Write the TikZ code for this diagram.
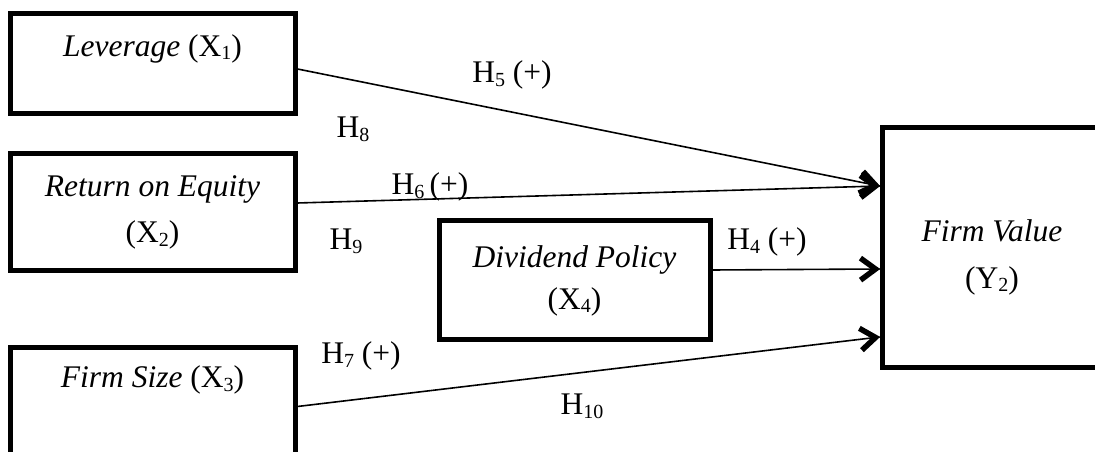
\documentclass[tikz,border=0pt]{standalone}
\usepackage{fontspec}
\setmainfont{Liberation Serif}
\usetikzlibrary{calc}
\newcommand\sbs[1]{\raisebox{-0.12em}{\fontsize{20}{20}\selectfont #1}}
\newcommand\vhead[2]{\draw[vtip] ($(#2)!19pt!(#1)!11pt!90:(#2)$) -- ($(#2)!4pt!(#1)$) -- ($(#2)!19pt!(#1)!11pt!-90:(#2)$);}
\begin{document}
\begin{tikzpicture}[x=1pt,y=1pt,
  box/.style={draw, line width=5pt, rectangle, inner sep=0pt, align=center,
    font=\fontsize{31.5}{46}\selectfont},
  conn/.style={line width=1.6pt},
  vtip/.style={line width=5.5pt, line cap=butt, line join=miter, miter limit=10},
  hlab/.style={font=\fontsize{31.5}{36}\selectfont, inner sep=0pt, anchor=base}]
\clip (0,0) rectangle (1095,452);
\node[box, minimum width=285pt, minimum height=100pt] (lev) at (152.5,388)
  {\textit{Leverage} (X\sbs{1})\\[-22pt]\strut};
\node[box, minimum width=285pt, minimum height=117pt] (roe) at (152.5,239.5)
  {\textit{Return on Equity}\\(X\sbs{2})};
\node[box, minimum width=285pt, minimum height=117pt] (fs) at (152.5,45.5)
  {\textit{Firm Size} (X\sbs{3})\\\strut};
\node[box, minimum width=271pt, minimum height=119pt, font=\fontsize{31.5}{42}\selectfont] (dp) at (574.5,171.5)
  {\textit{Dividend Policy}\\(X\sbs{4})};
\node[box, minimum width=220pt, minimum height=240pt, font=\fontsize{31.5}{47}\selectfont] (fv) at (992,204)
  {\rule{0pt}{10pt}\\[-17pt]\textit{Firm Value}\\(Y\sbs{2})};
\coordinate (t1) at ([yshift=62pt]fv.west);
\coordinate (t2) at ([yshift=-21pt]fv.west);
\coordinate (t3) at ([yshift=-89pt]fv.west);
\coordinate (s1) at ([yshift=-5pt]lev.east);
\coordinate (s2) at ([yshift=9.5pt]roe.east);
\coordinate (s3) at ([yshift=10.5pt]dp.east);
\coordinate (s4) at (fs.east);
\draw[conn] (s1) -- (t1);
\draw[conn] (s2) -- (t1);
\draw[conn] (s3) -- (t2);
\draw[conn] (s4) -- (t3);
\vhead{s1}{t1}
\vhead{s2}{t1}
\vhead{s3}{t2}
\vhead{s4}{t3}
\node[hlab] (h5) at (512,369) {H\sbs{5} (+)};
\node[hlab] (h8) at (353,314) {H\sbs{8}};
\node[hlab] (h6) at (430,257) {H\sbs{6}\,(+)};
\node[hlab] (h9) at (346,202) {H\sbs{9}};
\node[hlab] (h4) at (767,202) {H\sbs{4} (+)};
\node[hlab] (h7) at (361,88) {H\sbs{7} (+)};
\node[hlab] (h10) at (582,37) {H\sbs{10}};
\end{tikzpicture}
\end{document}
